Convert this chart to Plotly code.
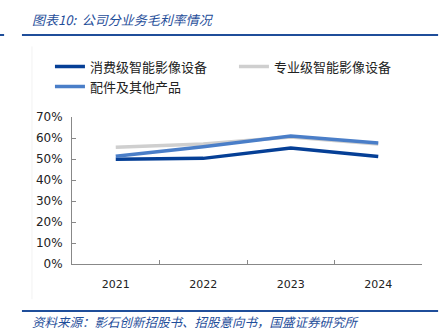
import plotly.graph_objects as go

years = ["2021", "2022", "2023", "2024"]
consumer = [0.499, 0.503, 0.552, 0.512]
professional = [0.556, 0.572, 0.605, 0.571]
accessories = [0.513, 0.558, 0.610, 0.576]
y_ticks = [0, 0.1, 0.2, 0.3, 0.4, 0.5, 0.6, 0.7]
y_labels = ["0%", "10%", "20%", "30%", "40%", "50%", "60%", "70%"]

names = ["消费级智能影像设备", "专业级智能影像设备", "配件及其他产品"]
colors = ["#053F96", "#CFCFCF", "#4A7EC8"]

fig = go.Figure()
series = [consumer, professional, accessories]
for i in [0, 1, 2]:
    fig.add_trace(go.Scatter(
        x=years, y=series[i], name=names[i], mode="lines",
        line=dict(color=colors[i], width=3.5),
    ))

title_blue = "#1F4E9A"
cjk = "Noto Sans CJK SC"

fig.update_layout(
    width=448, height=330,
    margin=dict(l=72, r=26, t=117, b=66, autoexpand=False),
    paper_bgcolor="white", plot_bgcolor="white",
    showlegend=True,
    legend=dict(
        orientation="h", xref="paper", yref="paper",
        x=-0.063, y=1.445, xanchor="left", yanchor="top",
        entrywidth=139, entrywidthmode="pixels",
        font=dict(family=cjk, size=13, color="#222222"),
        tracegroupgap=0, bgcolor="rgba(0,0,0,0)",
    ),
    xaxis=dict(
        type="category", range=[-0.5, 3.5], tickson="boundaries",
        ticks="inside", ticklen=4, tickcolor="#888888",
        showline=True, linecolor="#888888", linewidth=1,
        showgrid=False, zeroline=False, ticklabelstandoff=10,
        tickfont=dict(family="DejaVu Sans", size=11, color="#222222"),
    ),
    yaxis=dict(
        range=[0, 0.7], tickvals=y_ticks, ticktext=y_labels,
        ticks="inside", ticklen=4, tickcolor="#888888",
        showline=True, linecolor="#888888", linewidth=1,
        showgrid=False, zeroline=False, ticklabelstandoff=6,
        tickfont=dict(family="DejaVu Sans", size=12, color="#222222"),
    ),
    shapes=[
        dict(type="line", xref="paper", yref="paper", x0=-0.1143, x1=-0.1143, y0=-0.24, y1=1.48,
             line=dict(color="#F2F2F2", width=1)),
        dict(type="line", xref="paper", yref="paper", x0=-0.143, x1=1.046, y0=1.558, y1=1.558,
             line=dict(color=title_blue, width=2)),
        dict(type="line", xref="paper", yref="paper", x0=-0.206, x1=-0.194, y0=1.558, y1=1.558,
             line=dict(color=title_blue, width=2)),
        dict(type="line", xref="paper", yref="paper", x0=-0.143, x1=1.046, y0=-0.32, y1=-0.32,
             line=dict(color=title_blue, width=2)),
    ],
    annotations=[
        dict(text="<i>图表10:  公司分业务毛利率情况</i>", xref="paper", yref="paper",
             x=-0.12, y=1.66, xanchor="left", yanchor="middle", showarrow=False,
             font=dict(family=cjk, size=13, color=title_blue)),
        dict(text="<i>资料来源：影石创新招股书、招股意向书，国盛证券研究所</i>", xref="paper", yref="paper",
             x=-0.12, y=-0.39, xanchor="left", yanchor="middle", showarrow=False,
             font=dict(family=cjk, size=12.5, color=title_blue)),
    ],
)

fig.write_html("out.html")
